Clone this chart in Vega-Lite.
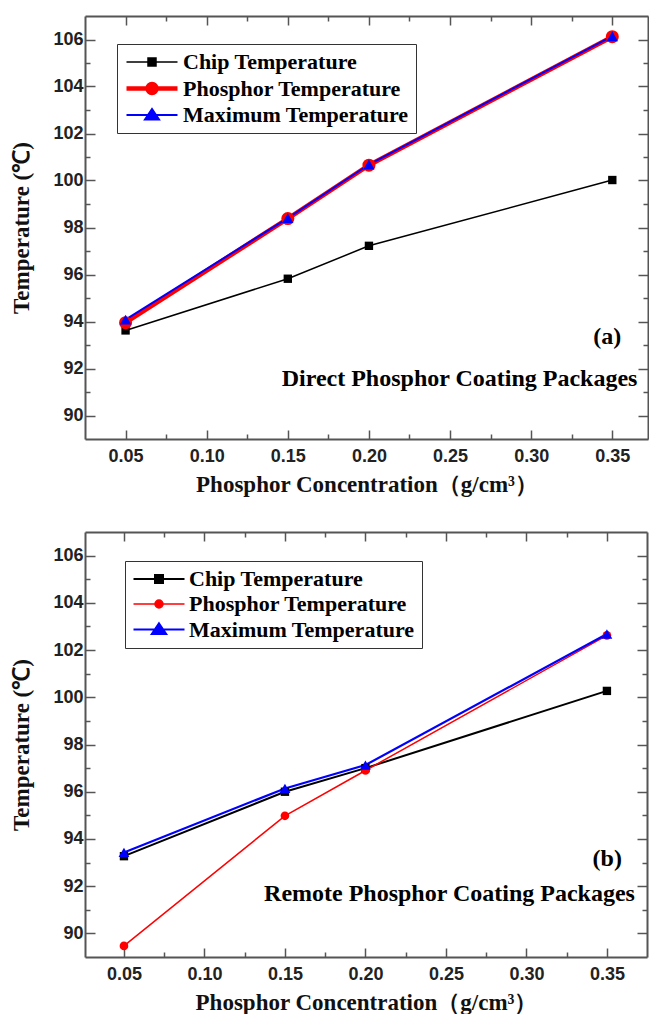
{
  "$schema": "https://vega.github.io/schema/vega-lite/v6.json",
  "background": "white",
  "padding": {"left": 10, "top": 15, "right": 0, "bottom": 0},
  "spacing": 35,
  "config": {"view": {"stroke": null}},
  "datasets": {
    "a": [
      {"conc": 0.05, "temp": 93.62, "series": "Chip Temperature"},
      {"conc": 0.15, "temp": 95.82, "series": "Chip Temperature"},
      {"conc": 0.20, "temp": 97.22, "series": "Chip Temperature"},
      {"conc": 0.35, "temp": 100.02, "series": "Chip Temperature"},
      {"conc": 0.05, "temp": 93.95, "series": "Phosphor Temperature"},
      {"conc": 0.15, "temp": 98.38, "series": "Phosphor Temperature"},
      {"conc": 0.20, "temp": 100.65, "series": "Phosphor Temperature"},
      {"conc": 0.35, "temp": 106.12, "series": "Phosphor Temperature"},
      {"conc": 0.05, "temp": 94.08, "series": "Maximum Temperature"},
      {"conc": 0.15, "temp": 98.40, "series": "Maximum Temperature"},
      {"conc": 0.20, "temp": 100.68, "series": "Maximum Temperature"},
      {"conc": 0.35, "temp": 106.14, "series": "Maximum Temperature"}
    ],
    "b": [
      {"conc": 0.05, "temp": 93.27, "series": "Chip Temperature"},
      {"conc": 0.15, "temp": 96.0, "series": "Chip Temperature"},
      {"conc": 0.20, "temp": 97.0, "series": "Chip Temperature"},
      {"conc": 0.35, "temp": 100.27, "series": "Chip Temperature"},
      {"conc": 0.05, "temp": 89.47, "series": "Phosphor Temperature"},
      {"conc": 0.15, "temp": 94.98, "series": "Phosphor Temperature"},
      {"conc": 0.20, "temp": 96.9, "series": "Phosphor Temperature"},
      {"conc": 0.35, "temp": 102.62, "series": "Phosphor Temperature"},
      {"conc": 0.05, "temp": 93.43, "series": "Maximum Temperature"},
      {"conc": 0.15, "temp": 96.14, "series": "Maximum Temperature"},
      {"conc": 0.20, "temp": 97.13, "series": "Maximum Temperature"},
      {"conc": 0.35, "temp": 102.68, "series": "Maximum Temperature"}
    ],
    "annA": [
      {"conc": 0.3555, "temp": 93.33, "label": "(a)"},
      {"conc": 0.3655, "temp": 91.55, "label": "Direct Phosphor Coating Packages"}
    ],
    "annB": [
      {"conc": 0.3593, "temp": 93.16, "label": "(b)"},
      {"conc": 0.3674, "temp": 91.68, "label": "Remote Phosphor Coating Packages"}
    ]
  },
  "vconcat": [
    {
      "width": 563,
      "height": 423,
      "resolve": {"axis": {"x": "independent", "y": "independent"}},
      "layer": [
        {
          "data": {"name": "a"},
          "mark": {"type": "line"},
          "encoding": {
            "x": {"field": "conc", "type": "quantitative",
              "scale": {"domain": [0.025, 0.372], "nice": false, "zero": false},
              "axis": {"orient": "bottom", "values": [0.05,0.075,0.1,0.125,0.15,0.175,0.2,0.225,0.25,0.275,0.3,0.325,0.35],
                "labelExpr": "abs(datum.value*20 - round(datum.value*20)) < 0.01 ? format(datum.value, '.2f') : ''",
                "tickSize": {"condition": {"test": "abs(datum.value*20 - round(datum.value*20)) < 0.01", "value": -9}, "value": -5},
                "tickColor": "#555", "tickWidth": 1.5, "domainColor": "#555", "domainWidth": 2, "grid": false,
                "labelFont": "Liberation Sans", "labelFontWeight": "bold", "labelFontSize": 18, "labelColor": "#222",
                "labelPadding": 17, "labelOverlap": false, "labelFlush": false,
                "title": "Phosphor Concentration（g/cm³）", "titleFont": "Liberation Serif", "titleFontSize": 23,
                "titleFontWeight": "bold", "titleColor": "#111", "titlePadding": 4}},
            "y": {"field": "temp", "type": "quantitative",
              "scale": {"domain": [89, 107], "nice": false, "zero": false},
              "axis": {"orient": "left", "values": [90,91,92,93,94,95,96,97,98,99,100,101,102,103,104,105,106],
                "labelExpr": "datum.value % 2 === 0 ? datum.value : ''",
                "tickSize": {"condition": {"test": "datum.value % 2 === 0", "value": -10}, "value": -5},
                "tickColor": "#555", "tickWidth": 1.5, "domainColor": "#555", "domainWidth": 2, "grid": false,
                "labelFont": "Liberation Sans", "labelFontWeight": "bold", "labelFontSize": 18, "labelColor": "#222",
                "labelPadding": 12, "labelOverlap": false, "labelFlush": false,
                "title": "Temperature (℃)", "titleFont": "Liberation Serif", "titleFontSize": 23,
                "titleFontWeight": "bold", "titleColor": "#111", "titlePadding": 19}},
            "color": {"field": "series", "type": "nominal",
              "scale": {"domain": ["Chip Temperature", "Phosphor Temperature", "Maximum Temperature"], "range": ["#000000", "#ff0000", "#0000ff"]},
              "legend": {"orient": "none", "legendX": 32, "legendY": 28, "title": null,
                "strokeColor": "#333", "padding": 7, "labelLimit": 400,
                "labelFont": "Liberation Serif", "labelFontWeight": "bold", "labelFontSize": 22, "labelColor": "#000",
                "symbolSize": 400, "labelOffset": 34, "rowPadding": 2, "symbolOpacity": 1, "symbolStrokeWidth": 1.5}},
            "strokeWidth": {"field": "series", "type": "nominal",
              "scale": {"type": "ordinal", "domain": ["Chip Temperature", "Phosphor Temperature", "Maximum Temperature"], "range": [1.5, 4.5, 2]},
              "legend": null}
          }
        },
        {
          "data": {"name": "a"},
          "transform": [{"filter": "datum.series === 'Chip Temperature'"}],
          "mark": {"type": "point", "filled": true, "opacity": 1, "shape": "square", "size": 70},
          "encoding": {
            "x": {"field": "conc", "type": "quantitative", "axis": null},
            "y": {"field": "temp", "type": "quantitative", "axis": null},
            "color": {"field": "series", "type": "nominal",
              "scale": {"domain": ["Chip Temperature", "Phosphor Temperature", "Maximum Temperature"], "range": ["#000000", "#ff0000", "#0000ff"]}}
          }
        },
        {
          "data": {"name": "a"},
          "transform": [{"filter": "datum.series === 'Phosphor Temperature'"}],
          "mark": {"type": "point", "filled": true, "opacity": 1, "shape": "circle", "size": 170},
          "encoding": {
            "x": {"field": "conc", "type": "quantitative", "axis": null},
            "y": {"field": "temp", "type": "quantitative", "axis": null},
            "color": {"field": "series", "type": "nominal",
              "scale": {"domain": ["Chip Temperature", "Phosphor Temperature", "Maximum Temperature"], "range": ["#000000", "#ff0000", "#0000ff"]}}
          }
        },
        {
          "data": {"name": "a"},
          "transform": [{"filter": "datum.series === 'Maximum Temperature'"}],
          "mark": {"type": "point", "filled": true, "opacity": 1, "shape": "triangle-up", "size": 130},
          "encoding": {
            "x": {"field": "conc", "type": "quantitative", "axis": null},
            "y": {"field": "temp", "type": "quantitative", "axis": null},
            "color": {"field": "series", "type": "nominal",
              "scale": {"domain": ["Chip Temperature", "Phosphor Temperature", "Maximum Temperature"], "range": ["#000000", "#ff0000", "#0000ff"]}}
          }
        },
        {
          "data": {"name": "a"},
          "transform": [{"filter": "datum.conc > 1"}],
          "mark": {"type": "point", "filled": true, "opacity": 1},
          "encoding": {
            "x": {"field": "conc", "type": "quantitative", "axis": null},
            "y": {"field": "temp", "type": "quantitative", "axis": null},
            "color": {"field": "series", "type": "nominal",
              "scale": {"domain": ["Chip Temperature", "Phosphor Temperature", "Maximum Temperature"], "range": ["#000000", "#ff0000", "#0000ff"]}},
            "shape": {"field": "series", "type": "nominal",
              "scale": {"domain": ["Chip Temperature", "Phosphor Temperature", "Maximum Temperature"],
                "range": ["M-1,0H4.1M1.15,-0.4H1.95V0.4H1.15Z", "M-1,0H4.1M2,0A0.45,0.45 0 1,1 1.1,0A0.45,0.45 0 1,1 2,0Z", "M-1,0H4.1M1.55,-0.6L2.25,0.45H0.85Z"]}}
          }
        },
        {
          "data": {"name": "annA"},
          "mark": {"type": "text", "align": "right", "baseline": "middle", "font": "Liberation Serif", "fontWeight": "bold", "fontSize": 24, "color": "#000"},
          "encoding": {
            "x": {"field": "conc", "type": "quantitative", "axis": null},
            "y": {"field": "temp", "type": "quantitative", "axis": null},
            "text": {"field": "label", "type": "nominal"}
          }
        },
        {
          "data": {"name": "a"},
          "mark": {"type": "point", "opacity": 0},
          "encoding": {
            "x": {"field": "conc", "type": "quantitative",
              "axis": {"orient": "top", "values": [0.05,0.075,0.1,0.125,0.15,0.175,0.2,0.225,0.25,0.275,0.3,0.325,0.35],
                "labels": false, "title": null, "grid": false,
                "tickSize": {"condition": {"test": "abs(datum.value*20 - round(datum.value*20)) < 0.01", "value": -9}, "value": -5},
                "tickColor": "#555", "tickWidth": 1.5, "domainColor": "#555", "domainWidth": 2}},
            "y": {"field": "temp", "type": "quantitative",
              "axis": {"orient": "right", "values": [90,91,92,93,94,95,96,97,98,99,100,101,102,103,104,105,106],
                "labels": false, "title": null, "grid": false,
                "tickSize": {"condition": {"test": "datum.value % 2 === 0", "value": -10}, "value": -5},
                "tickColor": "#555", "tickWidth": 1.5, "domainColor": "#555", "domainWidth": 2}}
          }
        }
      ]
    },
    {
      "width": 562,
      "height": 425,
      "resolve": {"axis": {"x": "independent", "y": "independent"}},
      "layer": [
        {
          "data": {"name": "b"},
          "mark": {"type": "line"},
          "encoding": {
            "x": {"field": "conc", "type": "quantitative",
              "scale": {"domain": [0.0258, 0.3749], "nice": false, "zero": false},
              "axis": {"orient": "bottom", "values": [0.05,0.075,0.1,0.125,0.15,0.175,0.2,0.225,0.25,0.275,0.3,0.325,0.35],
                "labelExpr": "abs(datum.value*20 - round(datum.value*20)) < 0.01 ? format(datum.value, '.2f') : ''",
                "tickSize": {"condition": {"test": "abs(datum.value*20 - round(datum.value*20)) < 0.01", "value": -9}, "value": -5},
                "tickColor": "#555", "tickWidth": 1.5, "domainColor": "#555", "domainWidth": 2, "grid": false,
                "labelFont": "Liberation Sans", "labelFontWeight": "bold", "labelFontSize": 18, "labelColor": "#222",
                "labelPadding": 17, "labelOverlap": false, "labelFlush": false,
                "title": "Phosphor Concentration（g/cm³）", "titleFont": "Liberation Serif", "titleFontSize": 23,
                "titleFontWeight": "bold", "titleColor": "#111", "titlePadding": 4}},
            "y": {"field": "temp", "type": "quantitative",
              "scale": {"domain": [89, 107], "nice": false, "zero": false},
              "axis": {"orient": "left", "values": [90,91,92,93,94,95,96,97,98,99,100,101,102,103,104,105,106],
                "labelExpr": "datum.value % 2 === 0 ? datum.value : ''",
                "tickSize": {"condition": {"test": "datum.value % 2 === 0", "value": -10}, "value": -5},
                "tickColor": "#555", "tickWidth": 1.5, "domainColor": "#555", "domainWidth": 2, "grid": false,
                "labelFont": "Liberation Sans", "labelFontWeight": "bold", "labelFontSize": 18, "labelColor": "#222",
                "labelPadding": 12, "labelOverlap": false, "labelFlush": false,
                "title": "Temperature (℃)", "titleFont": "Liberation Serif", "titleFontSize": 23,
                "titleFontWeight": "bold", "titleColor": "#111", "titlePadding": 19}},
            "color": {"field": "series", "type": "nominal",
              "scale": {"domain": ["Chip Temperature", "Phosphor Temperature", "Maximum Temperature"], "range": ["#000000", "#ff0000", "#0000ff"]},
              "legend": {"orient": "none", "legendX": 40, "legendY": 29, "title": null,
                "strokeColor": "#333", "padding": 7, "labelLimit": 400,
                "labelFont": "Liberation Serif", "labelFontWeight": "bold", "labelFontSize": 22, "labelColor": "#000",
                "symbolSize": 400, "labelOffset": 34, "rowPadding": 3, "symbolOpacity": 1, "symbolStrokeWidth": 1.5}},
            "strokeWidth": {"field": "series", "type": "nominal",
              "scale": {"type": "ordinal", "domain": ["Chip Temperature", "Phosphor Temperature", "Maximum Temperature"], "range": [2, 1.5, 2.2]},
              "legend": null}
          }
        },
        {
          "data": {"name": "b"},
          "transform": [{"filter": "datum.series === 'Chip Temperature'"}],
          "mark": {"type": "point", "filled": true, "opacity": 1, "shape": "square", "size": 70},
          "encoding": {
            "x": {"field": "conc", "type": "quantitative", "axis": null},
            "y": {"field": "temp", "type": "quantitative", "axis": null},
            "color": {"field": "series", "type": "nominal",
              "scale": {"domain": ["Chip Temperature", "Phosphor Temperature", "Maximum Temperature"], "range": ["#000000", "#ff0000", "#0000ff"]}}
          }
        },
        {
          "data": {"name": "b"},
          "transform": [{"filter": "datum.series === 'Phosphor Temperature'"}],
          "mark": {"type": "point", "filled": true, "opacity": 1, "shape": "circle", "size": 75},
          "encoding": {
            "x": {"field": "conc", "type": "quantitative", "axis": null},
            "y": {"field": "temp", "type": "quantitative", "axis": null},
            "color": {"field": "series", "type": "nominal",
              "scale": {"domain": ["Chip Temperature", "Phosphor Temperature", "Maximum Temperature"], "range": ["#000000", "#ff0000", "#0000ff"]}}
          }
        },
        {
          "data": {"name": "b"},
          "transform": [{"filter": "datum.series === 'Maximum Temperature'"}],
          "mark": {"type": "point", "filled": true, "opacity": 1, "shape": "triangle-up", "size": 115},
          "encoding": {
            "x": {"field": "conc", "type": "quantitative", "axis": null},
            "y": {"field": "temp", "type": "quantitative", "axis": null},
            "color": {"field": "series", "type": "nominal",
              "scale": {"domain": ["Chip Temperature", "Phosphor Temperature", "Maximum Temperature"], "range": ["#000000", "#ff0000", "#0000ff"]}}
          }
        },
        {
          "data": {"name": "b"},
          "transform": [{"filter": "datum.conc > 1"}],
          "mark": {"type": "point", "filled": true, "opacity": 1},
          "encoding": {
            "x": {"field": "conc", "type": "quantitative", "axis": null},
            "y": {"field": "temp", "type": "quantitative", "axis": null},
            "color": {"field": "series", "type": "nominal",
              "scale": {"domain": ["Chip Temperature", "Phosphor Temperature", "Maximum Temperature"], "range": ["#000000", "#ff0000", "#0000ff"]}},
            "shape": {"field": "series", "type": "nominal",
              "scale": {"domain": ["Chip Temperature", "Phosphor Temperature", "Maximum Temperature"],
                "range": ["M-1,0H4.1M1.15,-0.4H1.95V0.4H1.15Z", "M-1,0H4.1M1.95,0A0.4,0.4 0 1,1 1.15,0A0.4,0.4 0 1,1 1.95,0Z", "M-1,0H4.1M1.55,-0.6L2.25,0.45H0.85Z"]}}
          }
        },
        {
          "data": {"name": "annB"},
          "mark": {"type": "text", "align": "right", "baseline": "middle", "font": "Liberation Serif", "fontWeight": "bold", "fontSize": 24, "color": "#000"},
          "encoding": {
            "x": {"field": "conc", "type": "quantitative", "axis": null},
            "y": {"field": "temp", "type": "quantitative", "axis": null},
            "text": {"field": "label", "type": "nominal"}
          }
        },
        {
          "data": {"name": "b"},
          "mark": {"type": "point", "opacity": 0},
          "encoding": {
            "x": {"field": "conc", "type": "quantitative",
              "axis": {"orient": "top", "values": [0.05,0.075,0.1,0.125,0.15,0.175,0.2,0.225,0.25,0.275,0.3,0.325,0.35],
                "labels": false, "title": null, "grid": false,
                "tickSize": {"condition": {"test": "abs(datum.value*20 - round(datum.value*20)) < 0.01", "value": -9}, "value": -5},
                "tickColor": "#555", "tickWidth": 1.5, "domainColor": "#555", "domainWidth": 2}},
            "y": {"field": "temp", "type": "quantitative",
              "axis": {"orient": "right", "values": [90,91,92,93,94,95,96,97,98,99,100,101,102,103,104,105,106],
                "labels": false, "title": null, "grid": false,
                "tickSize": {"condition": {"test": "datum.value % 2 === 0", "value": -10}, "value": -5},
                "tickColor": "#555", "tickWidth": 1.5, "domainColor": "#555", "domainWidth": 2}}
          }
        }
      ]
    }
  ],
  "resolve": {
    "scale": {"color": "independent", "shape": "independent", "strokeWidth": "independent", "x": "independent", "y": "independent"},
    "legend": {"color": "independent", "shape": "independent"}
  }
}
